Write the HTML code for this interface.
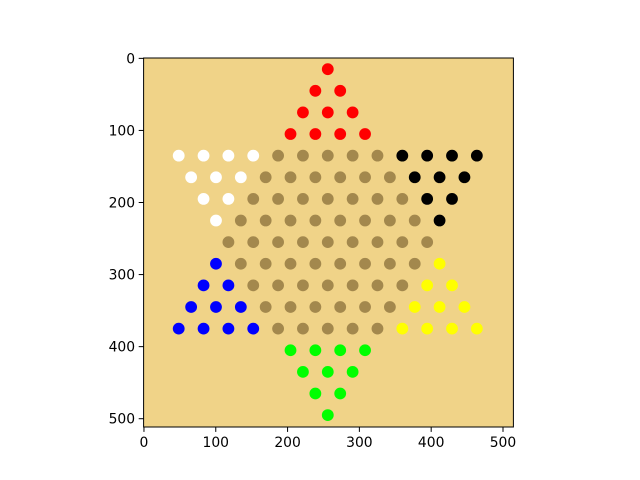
<!DOCTYPE html>
<html><head><meta charset="utf-8"><style>
html,body{margin:0;padding:0;background:#fff;}
svg{display:block;font-family:"DejaVu Sans","Liberation Sans",sans-serif;}
</style></head><body>
<svg id="chart" width="640" height="480"></svg>
<script>
// board data: each row's first hole index (in half-spacing units) and hole colours
const rowStartK = [0,-1,-2,-3,-12,-11,-10,-9,-8,-9,-10,-11,-12,-3,-2,-1,0];
const rowColors = ["R","RR","RRR","RRRR","WWWWBBBBBKKKK","WWWBBBBBBKKK","WWBBBBBBBKK","WBBBBBBBBK","BBBBBBBBB","LBBBBBBBBY","LLBBBBBBBYY","LLLBBBBBBYYY","LLLLBBBBBYYYY","GGGG","GGG","GG","G"];
const xTicks = [0,100,200,300,400,500];
const yTicks = [0,100,200,300,400,500];
const palette = {R:"#ff0000",W:"#ffffff",K:"#000000",B:"#a3884d",L:"#0000ff",Y:"#ffff00",G:"#00ff00"};
const centerX = 256, halfStep = 17.3, rowY0 = 15, rowStep = 30;

const NS="http://www.w3.org/2000/svg";
const svg=document.getElementById('chart');
const L=143.6,R=513.4,T=58,B=427;
const X0=-0.5,X1=514.5,Y0=-0.5,Y1=511.5;
const sx=v=>L+(v-X0)/(X1-X0)*(R-L);
const sy=v=>T+(v-Y0)/(Y1-Y0)*(B-T);
function mk(tag,attrs,parent){const e=document.createElementNS(NS,tag);for(const k in attrs)e.setAttribute(k,attrs[k]);(parent||svg).appendChild(e);return e;}
const bg=mk('rect',{x:L,y:T,width:R-L,height:B-T,fill:"#f0d388"});


const g=mk('g',{});


rowColors.forEach((s,r)=>{
  for(let i=0;i<s.length;i++){
    const k=rowStartK[r]+2*i;
    const c=mk('circle',{cx:sx(centerX+k*halfStep),cy:sy(rowY0+r*rowStep),r:5.9,fill:palette[s[i]]},g);
    
    
  }
});
const fr=mk('rect',{x:L,y:T,width:R-L,height:B-T,fill:"none",stroke:"#000","stroke-width":1});


xTicks.forEach(v=>{
  const x=sx(v);
  mk('line',{x1:x,x2:x,y1:B,y2:B+4.9,stroke:"#000"});
  const t=mk('text',{x:x,y:B+20,"font-size":13.9,"text-anchor":"middle"});t.textContent=v;
  
  
});
yTicks.forEach(v=>{
  const y=sy(v);
  mk('line',{x1:L-4.9,x2:L,y1:y,y2:y,stroke:"#000"});
  const t=mk('text',{x:L-8.5,y:y+5,"font-size":13.9,"text-anchor":"end"});t.textContent=v;
  
  
});
</script>
</body></html>
